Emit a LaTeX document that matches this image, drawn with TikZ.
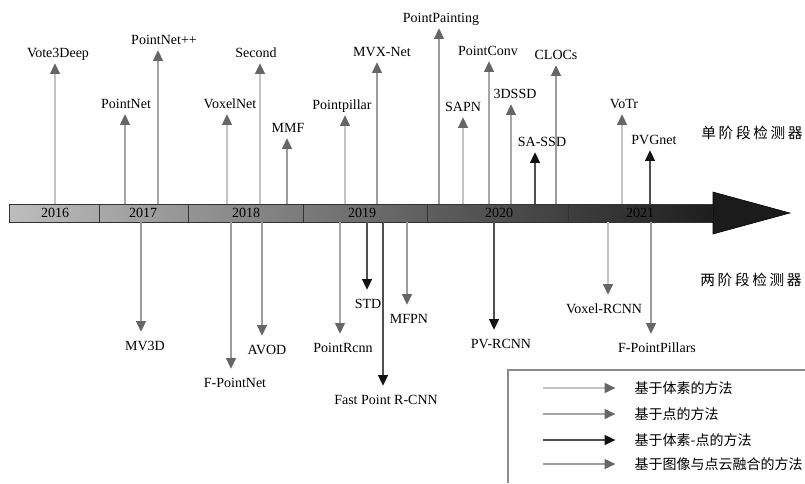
\documentclass[tikz,border=0pt]{standalone}
\usepackage{fontspec}
\setmainfont{Liberation Serif}
\newfontfamily\cjk{Noto Sans CJK SC}
\newfontfamily\cjkwide[LetterSpace=18]{Noto Sans CJK SC}
\usetikzlibrary{arrows.meta}
\definecolor{voxline}{HTML}{C4C4C4}
\definecolor{ptline}{HTML}{A6A6A6}
\definecolor{vpline}{HTML}{505050}
\definecolor{fusline}{HTML}{9C9C9C}
\definecolor{headgray}{HTML}{666666}
\definecolor{headblack}{HTML}{111111}
\definecolor{barleft}{HTML}{BDBDBD}
\definecolor{barright}{HTML}{1E1E1E}
\definecolor{framegray}{HTML}{8A8A8A}
\tikzset{
  lbl/.style={anchor=base, font=\fontsize{10.5}{12}\selectfont, inner sep=1.5pt, text depth=0pt, text height=0.7em},
  yr/.style={font=\fontsize{10.5}{12}\selectfont, inner sep=0pt},
  grayhead/.style={-{Triangle[length=8pt,width=7.5pt,color=headgray]}},
  blackhead/.style={-{Triangle[length=8pt,width=7.5pt,color=headblack]}},
  vox/.style={draw=voxline, line width=0.9pt, grayhead},
  pt/.style={draw=ptline, line width=0.8pt, grayhead},
  vp/.style={draw=vpline, line width=0.8pt, blackhead},
  fus/.style={draw=fusline, line width=0.8pt, grayhead},
  up/.style={shorten >=3pt},
  down/.style={shorten >=5pt}
}
\begin{document}
\begin{tikzpicture}[x=0.75pt,y=-0.75pt]
  \useasboundingbox (0,0) rectangle (805,483);

  % time axis
  \shade[left color=barleft, right color=barright] (9,204) rectangle (712,222);
  \draw[black!80] (9,204) rectangle (712,222);
  \draw[black!80] (99,204) -- (99,222);
  \draw[black!80] (188,204) -- (188,222);
  \draw[black!80] (303,204) -- (303,222);
  \draw[black!80] (427,204) -- (427,222);
  \draw[black!80] (568,204) -- (568,222);
  \filldraw[fill=barright!90!black, draw=black] (713,192) -- (790,213) -- (713,234) -- cycle;
  \node[yr] (y2016) at (55,213) {2016};
  \node[yr] (y2017) at (143,213) {2017};
  \node[yr] (y2018) at (246,213) {2018};
  \node[yr] (y2019) at (362,213) {2019};
  \node[yr] (y2020) at (499,213) {2020};
  \node[yr] (y2021) at (640,213) {2021};

  % single stage (above the axis)
  \coordinate (bvote) at (55,204);
  \coordinate (bpnet) at (125,204);
  \coordinate (bpnetpp) at (158,204);
  \coordinate (bvoxnet) at (227,204);
  \coordinate (bsecond) at (260,204);
  \coordinate (bmmf) at (287,204);
  \coordinate (bpillar) at (345,204);
  \coordinate (bmvx) at (377,204);
  \coordinate (bpaint) at (439,204);
  \coordinate (bsapn) at (463,204);
  \coordinate (bconv) at (489,204);
  \coordinate (btdssd) at (511,204);
  \coordinate (bsassd) at (535,204);
  \coordinate (bclocs) at (556,204);
  \coordinate (bvotr) at (622,204);
  \coordinate (bpvg) at (650,204);

  \node[lbl] (vote) at (58,57) {Vote3Deep};
  \node[lbl] (pnet) at (126,108) {PointNet};
  \node[lbl] (pnetpp) at (164,44) {PointNet++};
  \node[lbl] (voxnet) at (230,108) {VoxelNet};
  \node[lbl] (second) at (256,57) {Second};
  \node[lbl] (mmf) at (288,132) {MMF};
  \node[lbl] (pillar) at (342,109) {Pointpillar};
  \node[lbl] (mvx) at (382,56) {MVX-Net};
  \node[lbl] (paint) at (441,22) {PointPainting};
  \node[lbl] (sapn) at (463,111) {SAPN};
  \node[lbl] (conv) at (488,55) {PointConv};
  \node[lbl] (tdssd) at (515,98) {3DSSD};
  \node[lbl] (sassd) at (542,146) {SA-SSD};
  \node[lbl] (clocs) at (556,59) {CLOCs};
  \node[lbl] (votr) at (624,108) {VoTr};
  \node[lbl] (pvg) at (654,144) {PVGnet};

  \draw[vox, up] (bvote) -- (bvote |- vote.south);
  \draw[pt, up] (bpnet) -- (bpnet |- pnet.south);
  \draw[pt, up] (bpnetpp) -- (bpnetpp |- pnetpp.south);
  \draw[vox, up] (bvoxnet) -- (bvoxnet |- voxnet.south);
  \draw[vox, up] (bsecond) -- (bsecond |- second.south);
  \draw[fus, up] (bmmf) -- (bmmf |- mmf.south);
  \draw[vox, up] (bpillar) -- (bpillar |- pillar.south);
  \draw[fus, up] (bmvx) -- (bmvx |- mvx.south);
  \draw[fus, up] (bpaint) -- (bpaint |- paint.south);
  \draw[vox, up] (bsapn) -- (bsapn |- sapn.south);
  \draw[pt, up] (bconv) -- (bconv |- conv.south);
  \draw[pt, up] (btdssd) -- (btdssd |- tdssd.south);
  \draw[vp, up] (bsassd) -- (bsassd |- sassd.south);
  \draw[fus, up] (bclocs) -- (bclocs |- clocs.south);
  \draw[vox, up] (bvotr) -- (bvotr |- votr.south);
  \draw[vp, up] (bpvg) -- (bpvg |- pvg.south);

  % two stage (below the axis)
  \coordinate (bmvtd) at (141,222);
  \coordinate (bfpnet) at (231,222);
  \coordinate (bavod) at (262,222);
  \coordinate (bprcnn) at (340,222);
  \coordinate (bstd) at (367,222);
  \coordinate (bfastp) at (383,222);
  \coordinate (bmfpn) at (407,222);
  \coordinate (bpvrcnn) at (494,222);
  \coordinate (bvoxrcnn) at (608,222);
  \coordinate (bfpill) at (651,222);

  \node[lbl] (mvtd) at (145,350) {MV3D};
  \node[lbl] (fpnet) at (235,387) {F-PointNet};
  \node[lbl] (avod) at (267,354) {AVOD};
  \node[lbl] (prcnn) at (343,352) {PointRcnn};
  \node[lbl] (std) at (368,308) {STD};
  \node[lbl] (fastp) at (386,404) {Fast Point R-CNN};
  \node[lbl] (mfpn) at (409,323) {MFPN};
  \node[lbl] (pvrcnn) at (501,348) {PV-RCNN};
  \node[lbl] (voxrcnn) at (604,313) {Voxel-RCNN};
  \node[lbl] (fpill) at (657,352) {F-PointPillars};

  \draw[fus, down] (bmvtd) -- (bmvtd |- mvtd.north);
  \draw[fus, down] (bfpnet) -- (bfpnet |- fpnet.north);
  \draw[fus, down] (bavod) -- (bavod |- avod.north);
  \draw[pt, down] (bprcnn) -- (bprcnn |- prcnn.north);
  \draw[vp, down] (bstd) -- (bstd |- std.north);
  \draw[vp, down] (bfastp) -- (bfastp |- fastp.north);
  \draw[fus, down] (bmfpn) -- (bmfpn |- mfpn.north);
  \draw[vp, down] (bpvrcnn) -- (bpvrcnn |- pvrcnn.north);
  \draw[vox, down] (bvoxrcnn) -- (bvoxrcnn |- voxrcnn.north);
  \draw[fus, down] (bfpill) -- (bfpill |- fpill.north);

  \node[font=\fontsize{11}{13}\selectfont\cjkwide] (single) at (752,133) {单阶段检测器};
  \node[font=\fontsize{11}{13}\selectfont\cjkwide] (twostage) at (751,280) {两阶段检测器};

  % legend
  \draw[framegray, line width=0.8pt] (805,370) -- (508,370) -- (508,483);
  \node[anchor=west, font=\fontsize{10.5}{12}\selectfont\cjk] (legvox) at (630,388) {基于体素的方法};
  \node[anchor=west, font=\fontsize{10.5}{12}\selectfont\cjk] (legpt) at (630,414) {基于点的方法};
  \node[anchor=west, font=\fontsize{10.5}{12}\selectfont\cjk] (legvp) at (630,440) {基于体素-点的方法};
  \node[anchor=west, font=\fontsize{10.5}{12}\selectfont\cjk] (legfus) at (630,464) {基于图像与点云融合的方法};
  \coordinate (lvox) at (543,388);
  \coordinate (lpt) at (543,414);
  \coordinate (lvp) at (543,440);
  \coordinate (lfus) at (543,464);
  \draw[vox, shorten >=11pt] (lvox) -- (legvox.west);
  \draw[pt, shorten >=11pt] (lpt) -- (legpt.west);
  \draw[vp, shorten >=11pt] (lvp) -- (legvp.west);
  \draw[fus, shorten >=11pt] (lfus) -- (legfus.west);
\end{tikzpicture}
\end{document}
